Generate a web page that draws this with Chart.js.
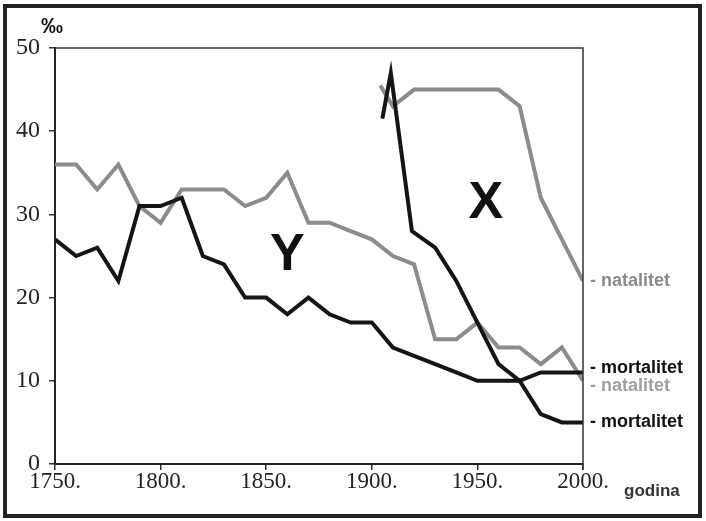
<!DOCTYPE html>
<html>
<head>
<meta charset="utf-8">
<script src="https://cdn.jsdelivr.net/npm/chart.js@4.4.1/dist/chart.umd.min.js"></script>
<style>
  html, body { margin: 0; padding: 0; background: #fff; }
  #wrap { width: 706px; height: 521px; position: relative; }
</style>
</head>
<body>
<div id="wrap"><canvas id="chart"></canvas></div>
<script>
// stari tip (Y)
var godineY = [1750, 1760, 1770, 1780, 1790, 1800, 1810, 1820, 1830, 1840, 1850, 1860, 1870,
  1880, 1890, 1900, 1910, 1920, 1930, 1940, 1950, 1960, 1970, 1980, 1990, 2000];
var natalitetY = [36, 36, 33, 36, 31, 29, 33, 33, 33, 31, 32, 35, 29, 29, 28, 27, 25, 24, 15, 15, 17, 14, 14, 12, 14, 10];
var mortalitetY = [27, 25, 26, 22, 31, 31, 32, 25, 24, 20, 20, 18, 20, 18, 17, 17, 14, 13, 12, 11, 10, 10, 10, 11, 11, 11];

// novi tip (X)
var godineXn = [1904, 1910, 1920, 1930, 1940, 1950, 1960, 1970, 1980, 1990, 2000];
var natalitetX = [45.5, 43, 45, 45, 45, 45, 45, 43, 32, 27, 22];
var godineXm = [1905, 1909, 1919, 1930, 1940, 1950, 1960, 1970, 1980, 1990, 2000];
var mortalitetX = [41.5, 47, 28, 26, 22, 17, 12, 10, 6, 5, 5];

var xTicks = [1750, 1800, 1850, 1900, 1950, 2000];
var yTicks = [0, 10, 20, 30, 40, 50];

var SIVA = '#8c8c8c';
var CRNA = '#151515';

toPoints = (xs, ys) => xs.map((x, i) => ({ x: x, y: ys[i] }));

// okvir, oznake i tekstovi
var ukrasi = {
  id: 'ukrasi',
  beforeDraw: function (chart) {
    var c = chart.ctx;
    c.save();
    c.fillStyle = '#fff';
    c.fillRect(0, 0, chart.width, chart.height);
    c.restore();
  },
  afterDraw: function (chart) {
    var c = chart.ctx;
    var a = chart.chartArea;
    var xs = chart.scales.x;
    var ys = chart.scales.y;
    c.save();

    // gornja i desna linija okvira grafa
    c.strokeStyle = '#333';
    c.lineWidth = 1.5;
    c.beginPath();
    c.moveTo(a.left, a.top);
    c.lineTo(a.right, a.top);
    c.lineTo(a.right, a.bottom + 6);
    c.stroke();

    // vanjski okvir
    c.strokeStyle = '#222';
    c.lineWidth = 4;
    c.strokeRect(5, 6, 695, 510);

    c.textBaseline = 'middle';
    c.textAlign = 'center';
    c.fillStyle = '#111';
    c.font = 'bold 22px "Liberation Sans", Arial, sans-serif';
    c.fillText('‰', a.left - 3, a.top - 21);

    c.font = 'bold 52px "Liberation Sans", Arial, sans-serif';
    c.fillText('Y', xs.getPixelForValue(1860), ys.getPixelForValue(25));
    c.fillText('X', xs.getPixelForValue(1954), ys.getPixelForValue(31.3));

    // oznake na kraju linija
    var xr = xs.getPixelForValue(2000) + 7;
    c.textAlign = 'left';
    c.font = 'bold 18px "Liberation Sans", Arial, sans-serif';
    c.fillStyle = '#8a8a8a';
    c.fillText('- natalitet', xr, ys.getPixelForValue(natalitetX[natalitetX.length - 1]));
    c.fillStyle = '#111';
    c.fillText('- mortalitet', xr, ys.getPixelForValue(mortalitetY[mortalitetY.length - 1]) - 4);
    c.fillStyle = '#a0a0a0';
    c.fillText('- natalitet', xr, ys.getPixelForValue(natalitetY[natalitetY.length - 1]) + 5);
    c.fillStyle = '#111';
    c.fillText('- mortalitet', xr, ys.getPixelForValue(mortalitetX[mortalitetX.length - 1]));

    c.fillStyle = '#333';
    c.font = 'bold 17px "Liberation Sans", Arial, sans-serif';
    c.fillText('godina', a.right + 41, a.bottom + 27);
    c.restore();
  }
};

var ctx = document.getElementById('chart').getContext('2d');
var chart = new Chart(ctx, {
  type: 'line',
  plugins: [ukrasi],
  data: {
    datasets: [
      {
        label: 'mortalitet X',
        data: toPoints(godineXm, mortalitetX),
        borderColor: CRNA,
        borderWidth: 4,
        pointRadius: 0,
        tension: 0,
        fill: false,
      },
      {
        label: 'mortalitet Y',
        data: toPoints(godineY, mortalitetY),
        borderColor: CRNA,
        borderWidth: 4,
        pointRadius: 0,
        tension: 0,
        fill: false,
      },
      {
        label: 'natalitet X',
        data: toPoints(godineXn, natalitetX),
        borderColor: SIVA,
        borderWidth: 4,
        pointRadius: 0,
        tension: 0,
        fill: false,
      },
      {
        label: 'natalitet Y',
        data: toPoints(godineY, natalitetY),
        borderColor: SIVA,
        borderWidth: 4,
        pointRadius: 0,
        tension: 0,
        fill: false,
      },
    ],
  },
  options: {
    responsive: true,
    maintainAspectRatio: false,
    animation: false,
    layout: {
      padding: { top: 48, right: 123, bottom: 0, left: 0 },
    },
    plugins: {
      legend: { display: false },
      tooltip: { enabled: false },
    },
    scales: {
      x: {
        type: 'linear',
        min: 1750,
        max: 2000,
        afterFit: (s) => { s.height = 57; },
        afterBuildTicks: (s) => { s.ticks = xTicks.map((v) => ({ value: v })); },
        ticks: {
          callback: (v) => v + '.',
          font: { family: '"Liberation Serif", "Times New Roman", serif', size: 23 },
          color: '#222',
          padding: -2,
          maxRotation: 0,
        },
        grid: {
          drawOnChartArea: false,
          drawTicks: true,
          tickLength: 6,
          color: '#333',
          lineWidth: 1.5,
        },
        border: { display: true, color: '#222', width: 2 },
      },
      y: {
        min: 0,
        max: 50,
        afterFit: (s) => { s.width = 55; },
        afterBuildTicks: (s) => { s.ticks = yTicks.map((v) => ({ value: v })); },
        ticks: {
          font: { family: '"Liberation Serif", "Times New Roman", serif', size: 24 },
          color: '#222',
          padding: 9,
        },
        grid: {
          drawOnChartArea: false,
          drawTicks: true,
          tickLength: 6,
          color: '#333',
          lineWidth: 1.5,
        },
        border: { display: true, color: '#222', width: 2 },
      },
    },
  },
});
</script>
</body>
</html>
